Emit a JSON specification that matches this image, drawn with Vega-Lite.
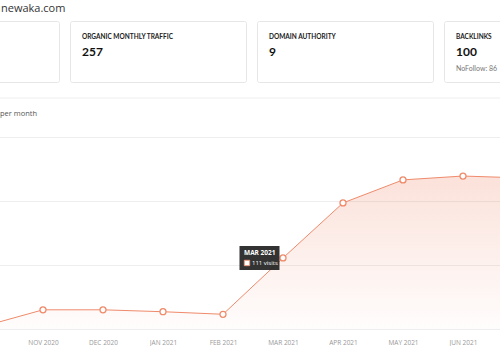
{
  "$schema": "https://vega.github.io/schema/vega-lite/v6.json",
  "autosize": {"type": "pad"},
  "padding": {"left": -117, "top": 2, "right": 0, "bottom": 0},
  "background": "white",
  "config": {
    "font": "Open Sans",
    "view": {"stroke": null},
    "title": {"anchor": "start", "frame": "group"}
  },
  "title": {"text": "newaka.com", "fontSize": 11, "fontWeight": "normal", "color": "#333", "dx": 117, "offset": 7},
  "spacing": 10,
  "vconcat": [
    {
      "spacing": 14,
      "vconcat": [
        {
          "spacing": 9,
          "hconcat": [
            {
              "width": 175, "height": 61,
              "view": {"stroke": "#e6e6e6", "cornerRadius": 2},
              "data": {"values": [{"note": ""}]},
              "mark": {"type": "text"},
              "encoding": {"text": {"field": "note"}}
            },
            {
              "width": 176, "height": 61,
              "view": {"stroke": "#e6e6e6", "cornerRadius": 2},
              "title": {"text": "ORGANIC MONTHLY TRAFFIC", "subtitle": "257", "dx": 12, "offset": -37, "font": "Lato", "fontSize": 6.5, "fontWeight": "bold", "color": "#222", "subtitleFont": "Lato", "subtitleFontSize": 12, "subtitleFontWeight": "bold", "subtitleColor": "#111", "subtitlePadding": 7},
              "data": {"values": [{"note": ""}]},
              "mark": {"type": "text"},
              "encoding": {"text": {"field": "note"}}
            },
            {
              "width": 176, "height": 61,
              "view": {"stroke": "#e6e6e6", "cornerRadius": 2},
              "title": {"text": "DOMAIN AUTHORITY", "subtitle": "9", "dx": 12, "offset": -37, "font": "Lato", "fontSize": 6.5, "fontWeight": "bold", "color": "#222", "subtitleFont": "Lato", "subtitleFontSize": 12, "subtitleFontWeight": "bold", "subtitleColor": "#111", "subtitlePadding": 7},
              "data": {"values": [{"note": ""}]},
              "mark": {"type": "text"},
              "encoding": {"text": {"field": "note"}}
            },
            {
              "width": 176, "height": 61,
              "view": {"stroke": "#e6e6e6", "cornerRadius": 2},
              "title": {"text": "BACKLINKS", "subtitle": "100", "dx": 12, "offset": -37, "font": "Lato", "fontSize": 6.5, "fontWeight": "bold", "color": "#222", "subtitleFont": "Lato", "subtitleFontSize": 12, "subtitleFontWeight": "bold", "subtitleColor": "#111", "subtitlePadding": 7},
              "data": {"values": [{"note": "NoFollow: 86"}]},
              "mark": {"type": "text", "align": "left", "baseline": "middle", "dx": -76, "dy": 17.5, "font": "Lato", "fontSize": 7, "color": "#777"},
              "encoding": {"text": {"field": "note"}}
            }
          ]
        },
        {
          "width": 738, "height": 1,
          "data": {"values": [{}]},
          "mark": {"type": "rule", "color": "#eeeeee", "strokeWidth": 1},
          "encoding": {"y": {"value": 0}}
        }
      ]
    },
    {
      "width": 678, "height": 192,
      "title": {"text": "per month", "fontSize": 7.5, "fontWeight": "normal", "color": "#555", "dx": 116, "offset": 20},
      "data": {"values": [
        {"month": "OCT 2020", "visits": 4},
        {"month": "NOV 2020", "visits": 30},
        {"month": "DEC 2020", "visits": 30},
        {"month": "JAN 2021", "visits": 27},
        {"month": "FEB 2021", "visits": 23},
        {"month": "MAR 2021", "visits": 111},
        {"month": "APR 2021", "visits": 197},
        {"month": "MAY 2021", "visits": 233},
        {"month": "JUN 2021", "visits": 239},
        {"month": "JUL 2021", "visits": 236}
      ]},
      "encoding": {
        "x": {
          "field": "month", "type": "ordinal",
          "scale": {"type": "point", "padding": 0.65, "domain": ["SEP 2020", "OCT 2020", "NOV 2020", "DEC 2020", "JAN 2021", "FEB 2021", "MAR 2021", "APR 2021", "MAY 2021", "JUN 2021", "JUL 2021"]},
          "axis": {"title": null, "ticks": false, "domain": false, "grid": false, "labelAngle": 0, "labelFontSize": 6.5, "labelColor": "#999", "labelPadding": 10}
        },
        "y": {
          "field": "visits", "type": "quantitative",
          "scale": {"domain": [0, 300]},
          "axis": {"values": [0, 100, 200, 300], "labels": false, "ticks": false, "domain": false, "title": null, "gridColor": "#eeeeee"}
        }
      },
      "layer": [
        {
          "mark": {"type": "area", "color": {"gradient": "linear", "x1": 0, "y1": 0, "x2": 0, "y2": 1, "stops": [{"offset": 0, "color": "rgba(239,138,107,0.25)"}, {"offset": 1, "color": "rgba(239,138,107,0.02)"}]}}
        },
        {
          "mark": {"type": "line", "color": "#ef8a6b", "strokeWidth": 1}
        },
        {
          "mark": {"type": "point", "filled": true, "fill": "white", "stroke": "#ef8a6b", "strokeWidth": 1.3, "size": 36, "opacity": 1}
        },
        {
          "transform": [{"filter": "datum.month === 'MAR 2021'"}],
          "mark": {"type": "point", "shape": "M-1,-0.6H1V0.6H-1Z", "size": 1600, "filled": true, "color": "#222", "opacity": 0.92, "xOffset": -23.5}
        },
        {
          "transform": [{"filter": "datum.month === 'MAR 2021'"}],
          "mark": {"type": "text", "align": "left", "baseline": "middle", "dx": -39, "dy": -5, "fontSize": 6.5, "fontWeight": "bold", "color": "white"},
          "encoding": {"text": {"field": "month"}}
        },
        {
          "transform": [{"filter": "datum.month === 'MAR 2021'"}],
          "mark": {"type": "point", "shape": "square", "size": 30, "filled": true, "fill": "white", "stroke": "#ef8a6b", "strokeWidth": 0.8, "opacity": 1, "xOffset": -36, "yOffset": 5}
        },
        {
          "transform": [{"filter": "datum.month === 'MAR 2021'"}, {"calculate": "datum.visits + ' visits'", "as": "label"}],
          "mark": {"type": "text", "align": "left", "baseline": "middle", "dx": -31, "dy": 5, "fontSize": 6, "color": "white"},
          "encoding": {"text": {"field": "label"}}
        }
      ]
    }
  ]
}
